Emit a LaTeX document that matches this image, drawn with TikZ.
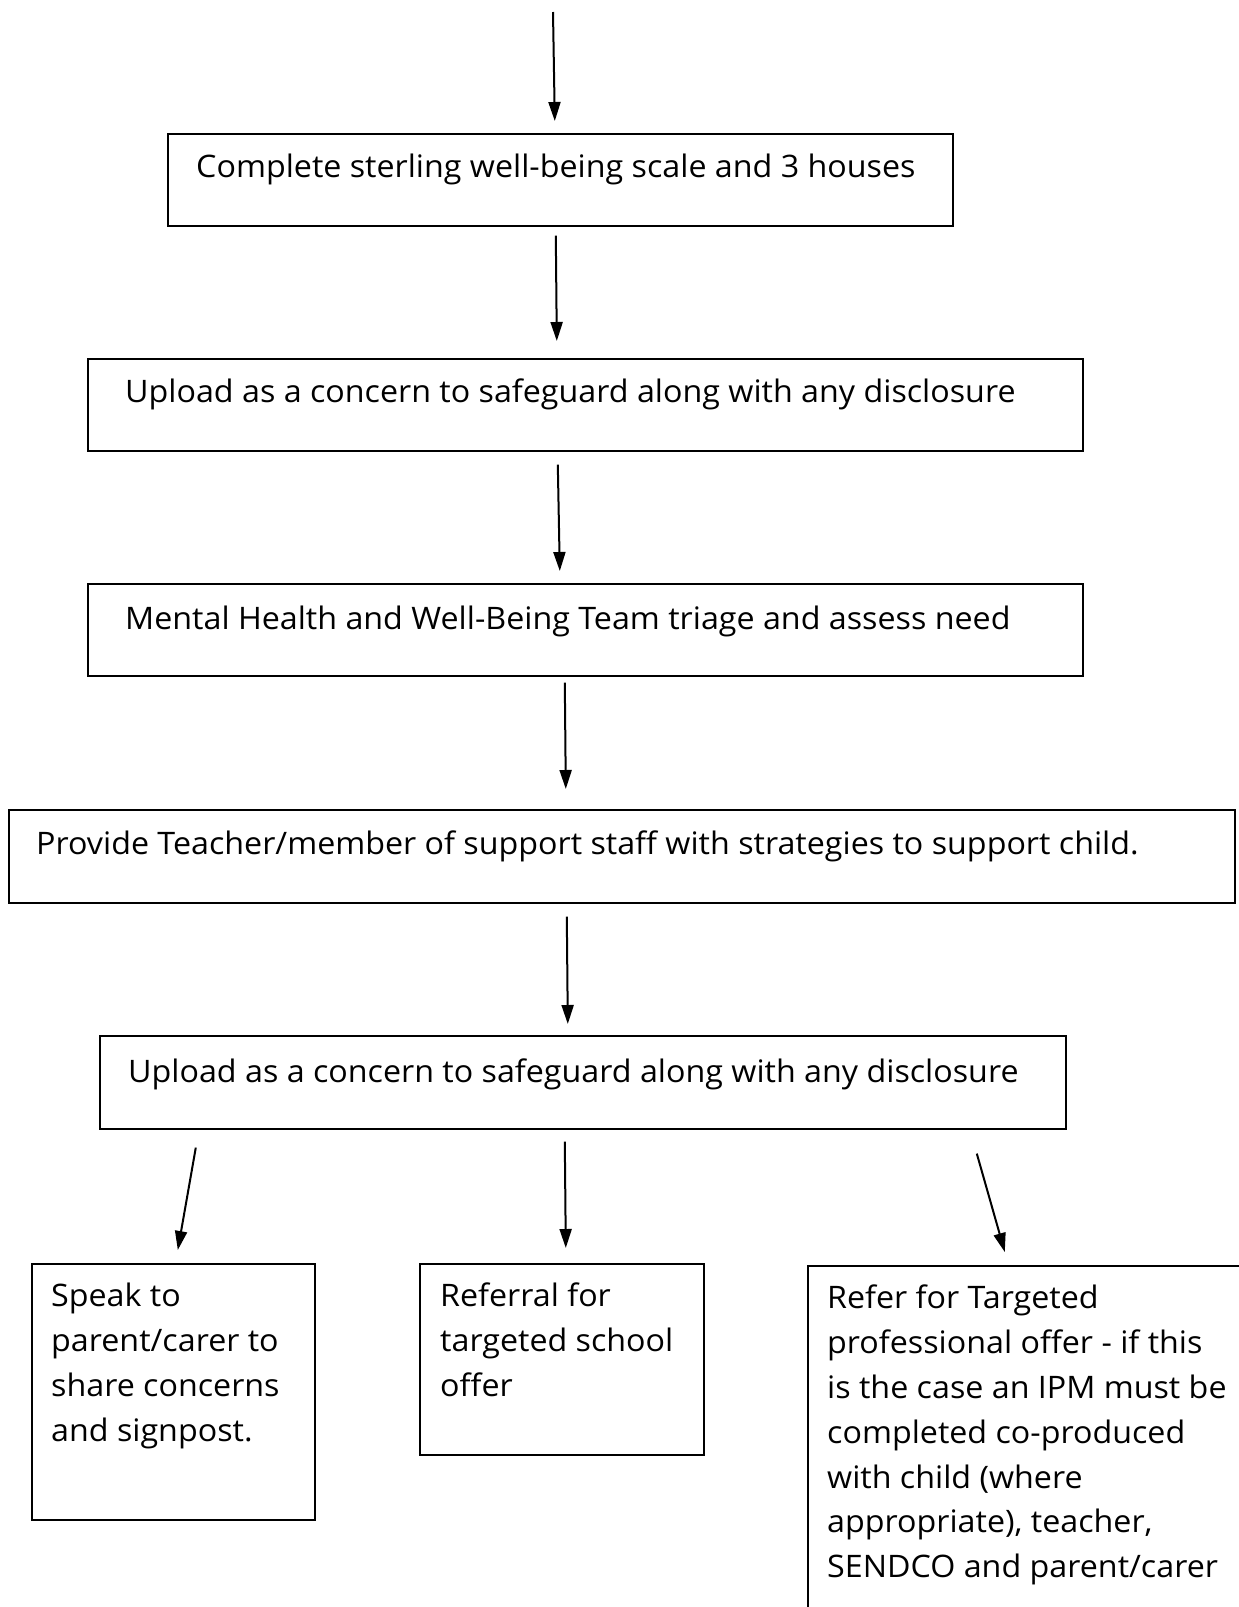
\documentclass[tikz,border=0pt]{standalone}
\usepackage{fontspec}
\setmainfont[FakeStretch=1.04]{Open Sans}
\usetikzlibrary{arrows.meta}
\begin{document}
\begin{tikzpicture}[x=1pt,y=-1pt,
  box/.style={draw=black,line width=1.6pt,rectangle,inner sep=0pt,anchor=north west},
  txt/.style={inner sep=0pt,anchor=base west,align=left,font=\fontsize{31}{44.8}\selectfont},
  arr/.style={line width=2pt,-{Triangle[length=19pt,width=12pt]}}]
\useasboundingbox (0,0) rectangle (1239,1607);
\clip (0,0) rectangle (1239,1607);
\fill[white] (0,0) rectangle (1239,1607);
% boxes
\node[box,minimum width=785pt,minimum height=92pt] (b1) at (167,133) {};
\node[box,minimum width=995pt,minimum height=92pt] (b2) at (87,358) {};
\node[box,minimum width=995pt,minimum height=92pt] (b3) at (87,583) {};
\node[box,minimum width=1226pt,minimum height=93pt] (b4) at (8,809) {};
\node[box,minimum width=966pt,minimum height=93pt] (b5) at (99,1035) {};
\node[box,minimum width=283pt,minimum height=256pt] (b6) at (31,1263) {};
\node[box,minimum width=284pt,minimum height=191pt] (b7) at (419,1263) {};
\node[box,minimum width=473pt,minimum height=385pt] (b8) at (807,1265) {};
% texts
\node[txt] (t1) at ([shift={(29,44)}]b1.north west) {Complete sterling well-being scale and 3 houses};
\node[txt] (t2) at ([shift={(38,44)}]b2.north west) {Upload as a concern to safeguard along with any disclosure};
\node[txt] (t3) at ([shift={(38,46)}]b3.north west) {Mental Health and Well-Being Team triage and assess need};
\node[txt] (t4) at ([shift={(28,45)}]b4.north west) {Provide Teacher/member of support staff with strategies to support child.};
\node[txt] (t5) at ([shift={(29,47)}]b5.north west) {Upload as a concern to safeguard along with any disclosure};
\node[txt,anchor=north west] (t6) at ([shift={(20,20)}]b6.north west) {Speak to\\parent/carer to\\share concerns\\and signpost.};
\node[txt,anchor=north west] (t7) at ([shift={(21,20)}]b7.north west) {Referral for\\targeted school\\offer};
\node[txt,anchor=north west] (t8) at ([shift={(20,20)}]b8.north west) {Refer for Targeted\\professional offer - if this\\is the case an IPM must be\\completed co-produced\\with child (where\\appropriate), teacher,\\SENDCO and parent/carer};
% arrows
\coordinate (top) at (553,12);
\draw[arr] (top) -- ([shift={(-5.5,-12)}]b1.north);
\draw[arr] ([shift={(-4.5,9)}]b1.south) -- ([shift={(-28.5,-17)}]b2.north);
\draw[arr] ([shift={(-27.5,13)}]b2.south) -- ([shift={(-25.5,-12)}]b3.north);
\draw[arr] ([shift={(-20.5,6)}]b3.south) -- ([shift={(-56,-20)}]b4.north);
\draw[arr] ([shift={(-55,13)}]b4.south) -- ([shift={(-15,-11)}]b5.north);
\draw[arr] ([shift={(-387,18)}]b5.south) -- ([shift={(4.5,-13)}]b6.north);
\draw[arr] ([shift={(-18,12)}]b5.south) -- ([shift={(4,-15)}]b7.north);
\draw[arr] ([shift={(394,24)}]b5.south) -- ([shift={(-39.5,-13)}]b8.north);
\end{tikzpicture}
\end{document}
